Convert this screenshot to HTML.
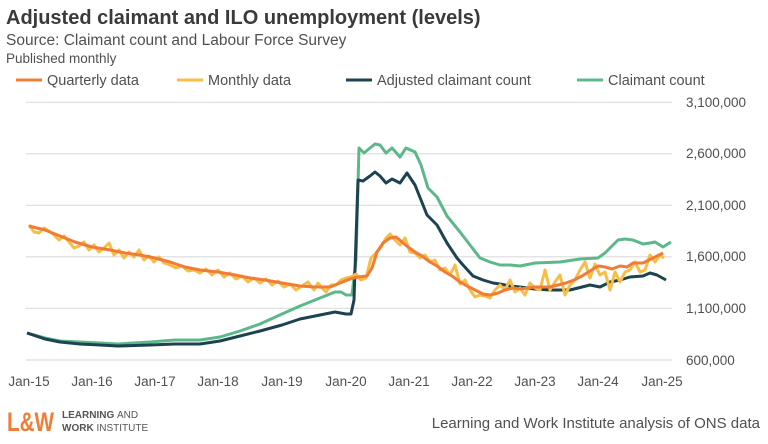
<!DOCTYPE html>
<html><head><meta charset="utf-8"><style>
body{margin:0;width:768px;height:439px;background:#fff;overflow:hidden;font-family:"Liberation Sans",sans-serif;color:#404040}
</style></head><body>
<svg width="768" height="439" xmlns="http://www.w3.org/2000/svg" font-family="Liberation Sans, sans-serif">
<text x="6" y="24" font-size="20" font-weight="bold" fill="#3a3a3a">Adjusted claimant and ILO unemployment (levels)</text>
<text x="6" y="45" font-size="15.5" fill="#505050">Source: Claimant count and Labour Force Survey</text>
<text x="6" y="63" font-size="13.5" fill="#505050">Published monthly</text>
<g font-size="14.5" fill="#505050">
<line x1="16" y1="80" x2="42" y2="80" stroke="#f07c35" stroke-width="3"/><text x="47" y="85">Quarterly data</text>
<line x1="177" y1="80" x2="203" y2="80" stroke="#f7be47" stroke-width="3"/><text x="208" y="85">Monthly data</text>
<line x1="346" y1="80" x2="372" y2="80" stroke="#1d4250" stroke-width="3"/><text x="377" y="85">Adjusted claimant count</text>
<line x1="577" y1="80" x2="603" y2="80" stroke="#5cb88a" stroke-width="3"/><text x="608" y="85">Claimant count</text>
</g>
<g stroke="#dcdcdc" stroke-width="1.2">
<line x1="26" y1="102.3" x2="672" y2="102.3"/><line x1="26" y1="153.8" x2="672" y2="153.8"/>
<line x1="26" y1="205.3" x2="672" y2="205.3"/><line x1="26" y1="256.8" x2="672" y2="256.8"/>
<line x1="26" y1="308.3" x2="672" y2="308.3"/><line x1="26" y1="360" x2="672" y2="360"/>
</g>
<g font-size="13.5" fill="#505050">
<text x="686" y="107">3,100,000</text><text x="686" y="158">2,600,000</text><text x="686" y="210">2,100,000</text>
<text x="686" y="261">1,600,000</text><text x="686" y="313">1,100,000</text><text x="686" y="365">600,000</text>
</g>
<g font-size="13.5" fill="#505050" text-anchor="middle">
<text x="29" y="386">Jan-15</text><text x="92" y="386">Jan-16</text><text x="155" y="386">Jan-17</text>
<text x="218" y="386">Jan-18</text><text x="282" y="386">Jan-19</text><text x="346" y="386">Jan-20</text>
<text x="409" y="386">Jan-21</text><text x="472" y="386">Jan-22</text><text x="535" y="386">Jan-23</text>
<text x="598" y="386">Jan-24</text><text x="662" y="386">Jan-25</text>
</g>
<g fill="none" stroke-width="3" stroke-linejoin="round">
<polyline stroke="#5cb88a" points="27,333 45,338 60,341 80,342 100,343 118,344 150,342 175,340 200,340 220,337 240,331 260,324 282,314 300,306 320,298 335,292 341,292 346,295 352,295 356,260 359,148 364,153 370,148 375,144 380,145 386,153 392,148 400,157 406,148 415,152 421,165 428,188 437,197 447,216 460,232 470,245 480,258 490,262 500,265 510,265 520,266 535,263 560,262 580,259 598,258 605,253 613,245 618,240 625,239 633,240 643,244 650,243 655,242 663,247 671,242"/>
<polyline stroke="#1d4250" points="27,333 45,339 60,342 80,344 100,345 118,346 150,345 175,344 200,344 220,341 240,336 260,331 282,325 300,319 320,315 335,312 346,314 351,314 354,300 358,180 363,181 370,176 375,172 380,176 386,183 392,179 400,183 407,173 415,185 427,215 437,225 447,243 457,258 463,265 473,276 483,280 493,283 500,284 510,286 520,287 535,289 550,290 570,290 590,285 600,287 610,282 620,280 630,277 643,276 650,273 657,275 666,280"/>
<polyline stroke="#f7be47" points="29,225 34,232 39,233 44,228 49,231 54,235 59,240 64,236 69,242 74,248 79,246 84,242 89,250 94,245 99,252 104,248 109,243 114,255 119,250 124,258 129,252 134,257 139,250 144,260 149,256 154,262 159,257 164,263 170,265 176,268 182,266 188,271 194,270 200,273 206,269 212,275 218,270 224,277 230,273 236,279 242,276 248,282 254,278 260,283 266,279 272,285 278,281 284,287 290,284 296,290 302,286 308,282 314,290 318,283 322,288 326,292 331,285 336,285 341,280 346,278 351,277 356,274 361,280 366,278 371,258 376,253 381,247 386,238 390,234 395,240 400,245 405,238 410,252 415,253 420,258 425,255 430,262 435,260 440,270 445,268 450,275 455,265 460,284 465,280 470,290 475,297 480,295 485,296 490,298 495,290 500,285 505,290 510,280 515,292 520,288 525,295 530,283 535,288 540,290 545,270 550,290 555,282 560,275 565,295 570,285 575,280 580,270 585,262 590,278 595,264 600,275 605,272 610,290 615,272 620,282 625,272 630,270 635,262 640,272 645,270 650,255 655,262 660,255 664,258"/>
<polyline stroke="#f07c35" points="29,226 45,230 60,236 75,242 92,247 110,250 125,253 140,255 155,258 170,262 185,267 200,270 218,272 235,275 250,278 265,280 282,283 300,286 315,287 330,287 340,283 350,279 358,277 367,276 372,268 377,252 383,243 390,238 396,237 402,242 408,247 415,252 422,256 430,262 437,266 445,272 452,276 460,282 467,286 475,290 483,294 490,295 498,293 505,290 513,288 520,289 528,288 535,287 543,287 550,287 558,285 566,283 574,280 582,276 590,271 598,266 605,267 612,269 620,266 627,267 633,263 643,263 653,258 663,253"/>
</g>
<text x="7" y="431" font-size="27" font-weight="bold" fill="#f07c35" textLength="47" lengthAdjust="spacingAndGlyphs">L&amp;W</text>
<text x="62" y="418" font-size="10" font-weight="bold" fill="#555">LEARNING <tspan font-weight="normal">AND</tspan></text>
<text x="62" y="431" font-size="10" font-weight="bold" fill="#555">WORK <tspan font-weight="normal">INSTITUTE</tspan></text>
<text x="760" y="428" font-size="15" fill="#505050" text-anchor="end">Learning and Work Institute analysis of ONS data</text>
</svg>
</body></html>
